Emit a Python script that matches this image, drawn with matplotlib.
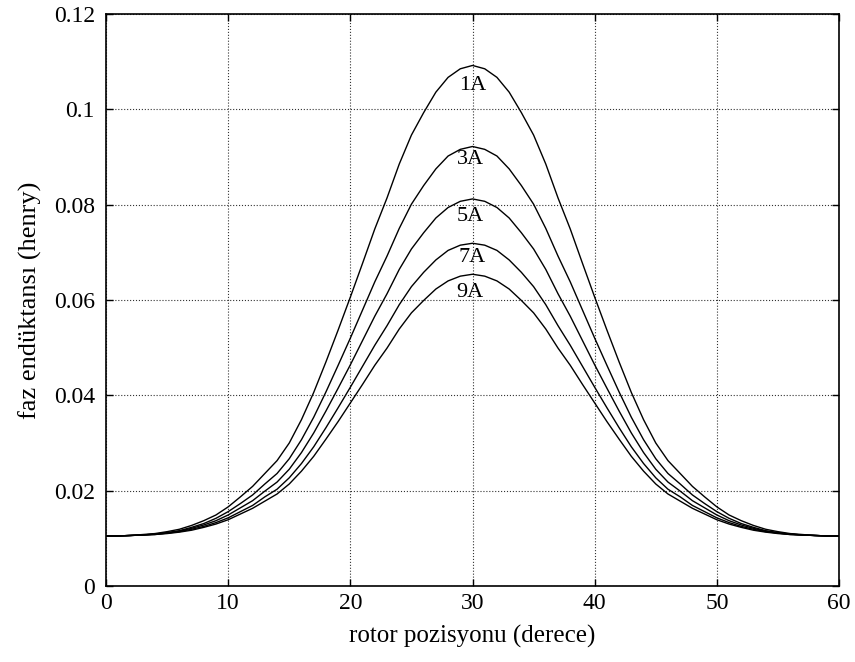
import matplotlib
matplotlib.use("Agg")
import matplotlib.pyplot as plt

plt.rcParams['font.family'] = ['Liberation Serif', 'DejaVu Serif']

# rotor position (degrees)
x = list(range(0, 61))

L_1A = [0.0105, 0.0105, 0.0106, 0.0108, 0.0110, 0.0114, 0.0119, 0.0127, 0.0137, 0.0149,
        0.0166, 0.0187, 0.0209, 0.0236, 0.0263, 0.0300, 0.0349, 0.0406, 0.0470, 0.0537,
        0.0606, 0.0677, 0.0749, 0.0814, 0.0885, 0.0946, 0.0993, 0.1036, 0.1067, 0.1085,
        0.1092,
        0.1085, 0.1067, 0.1036, 0.0993, 0.0946, 0.0885, 0.0814, 0.0749, 0.0677, 0.0606,
        0.0537, 0.0470, 0.0406, 0.0349, 0.0300, 0.0263, 0.0236, 0.0209, 0.0187, 0.0166,
        0.0149, 0.0137, 0.0127, 0.0119, 0.0114, 0.0110, 0.0108, 0.0106, 0.0105, 0.0105]

L_3A = [0.0105, 0.0105, 0.0106, 0.0107, 0.0109, 0.0112, 0.0116, 0.0123, 0.0131, 0.0142,
        0.0156, 0.0173, 0.0191, 0.0214, 0.0236, 0.0267, 0.0307, 0.0354, 0.0407, 0.0463,
        0.0520, 0.0579, 0.0638, 0.0692, 0.0750, 0.0801, 0.0840, 0.0875, 0.0902, 0.0916,
        0.0922,
        0.0916, 0.0902, 0.0875, 0.0840, 0.0801, 0.0750, 0.0692, 0.0638, 0.0579, 0.0520,
        0.0463, 0.0407, 0.0354, 0.0307, 0.0267, 0.0236, 0.0214, 0.0191, 0.0173, 0.0156,
        0.0142, 0.0131, 0.0123, 0.0116, 0.0112, 0.0109, 0.0107, 0.0106, 0.0105, 0.0105]

L_5A = [0.0105, 0.0105, 0.0106, 0.0107, 0.0109, 0.0111, 0.0115, 0.0121, 0.0128, 0.0137,
        0.0149, 0.0164, 0.0179, 0.0199, 0.0218, 0.0245, 0.0280, 0.0321, 0.0367, 0.0415,
        0.0464, 0.0515, 0.0566, 0.0613, 0.0664, 0.0707, 0.0741, 0.0772, 0.0794, 0.0807,
        0.0812,
        0.0807, 0.0794, 0.0772, 0.0741, 0.0707, 0.0664, 0.0613, 0.0566, 0.0515, 0.0464,
        0.0415, 0.0367, 0.0321, 0.0280, 0.0245, 0.0218, 0.0199, 0.0179, 0.0164, 0.0149,
        0.0137, 0.0128, 0.0121, 0.0115, 0.0111, 0.0109, 0.0107, 0.0106, 0.0105, 0.0105]

L_7A = [0.0105, 0.0105, 0.0106, 0.0107, 0.0108, 0.0111, 0.0114, 0.0119, 0.0125, 0.0133,
        0.0143, 0.0156, 0.0169, 0.0187, 0.0203, 0.0227, 0.0257, 0.0292, 0.0332, 0.0374,
        0.0417, 0.0461, 0.0505, 0.0546, 0.0590, 0.0628, 0.0658, 0.0684, 0.0704, 0.0715,
        0.0719,
        0.0715, 0.0704, 0.0684, 0.0658, 0.0628, 0.0590, 0.0546, 0.0505, 0.0461, 0.0417,
        0.0374, 0.0332, 0.0292, 0.0257, 0.0227, 0.0203, 0.0187, 0.0169, 0.0156, 0.0143,
        0.0133, 0.0125, 0.0119, 0.0114, 0.0111, 0.0108, 0.0107, 0.0106, 0.0105, 0.0105]

L_9A = [0.0105, 0.0105, 0.0106, 0.0107, 0.0108, 0.0110, 0.0113, 0.0117, 0.0123, 0.0130,
        0.0139, 0.0151, 0.0163, 0.0178, 0.0193, 0.0214, 0.0241, 0.0272, 0.0308, 0.0345,
        0.0384, 0.0423, 0.0463, 0.0499, 0.0539, 0.0573, 0.0599, 0.0623, 0.0640, 0.0650,
        0.0654,
        0.0650, 0.0640, 0.0623, 0.0599, 0.0573, 0.0539, 0.0499, 0.0463, 0.0423, 0.0384,
        0.0345, 0.0308, 0.0272, 0.0241, 0.0214, 0.0193, 0.0178, 0.0163, 0.0151, 0.0139,
        0.0130, 0.0123, 0.0117, 0.0113, 0.0110, 0.0108, 0.0107, 0.0106, 0.0105, 0.0105]

series = [L_1A, L_3A, L_5A, L_7A, L_9A]
labels = ['1A', '3A', '5A', '7A', '9A']
label_x = [30.0, 29.8, 29.8, 30.0, 29.8]
label_y = [0.1049, 0.0894, 0.0776, 0.0690, 0.0615]

xticks = [0, 10, 20, 30, 40, 50, 60]
xticklabels = ['0', '10', '20', '30', '40', '50', '60']
yticks = [0, 0.02, 0.04, 0.06, 0.08, 0.1, 0.12]
yticklabels = ['0', '0.02', '0.04', '0.06', '0.08', '0.1', '0.12']

fig = plt.figure(figsize=(8.55, 6.62), dpi=100)
ax = fig.add_axes([0.124, 0.1148, 0.8573, 0.8641])

for s in series:
    ax.plot(x, s, color='black', lw=1.0)

for lab, lx, ly in zip(labels, label_x, label_y):
    ax.text(lx, ly, lab, ha='center', va='center', fontsize=16)

ax.set_xlim(0, 60)
ax.set_ylim(0, 0.12)
ax.set_xticks(xticks)
ax.set_xticklabels(xticklabels)
ax.set_yticks(yticks)
ax.set_yticklabels(yticklabels)
ax.tick_params(direction='in', top=True, right=True, labelsize=17, length=5, width=1)
ax.tick_params(axis='x', pad=5)
ax.tick_params(axis='y', pad=8)
ax.grid(True, linestyle=':', color='#333333', lw=0.8)
for sp in ax.spines.values():
    sp.set_linewidth(1.2)

ax.set_xlabel('rotor pozisyonu (derece)', fontsize=18)
ax.set_ylabel('faz endüktansı (henry)', fontsize=19)
ax.xaxis.set_label_coords(0.5, -0.068)
ax.yaxis.set_label_coords(-0.088, 0.5)

fig.savefig('out.png', dpi=100)
